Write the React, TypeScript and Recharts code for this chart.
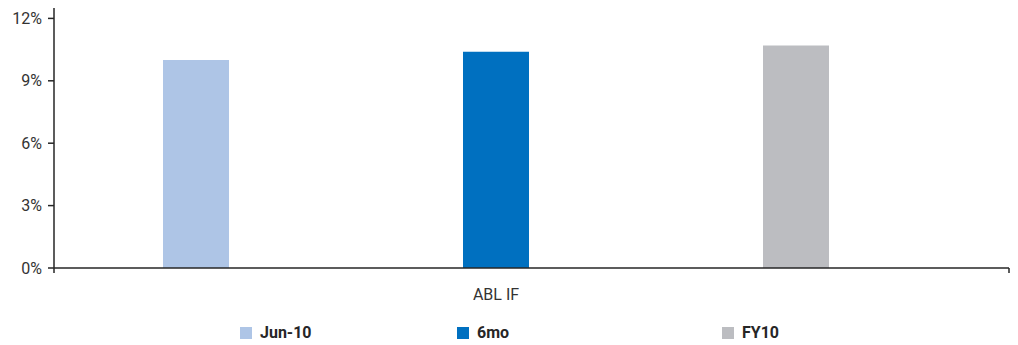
import React from 'react';
import * as Recharts from 'recharts';
import { BarChart, Bar, XAxis, YAxis, Legend } from 'recharts';

// Return rates by fund
const categories = ['ABL IF'];
const seriesNames = ['Jun-10', '6mo', 'FY10'];
const jun10Values = [10.0];
const sixMonthValues = [10.4];
const fy10Values = [10.7];
const yTicks = [0, 3, 6, 9, 12];

const seriesKeys = ['jun10', 'sixMo', 'fy10'];
const seriesColors = ['#AEC5E6', '#0070C0', '#BCBDC1'];

const data = categories.map((name, i) => ({
  name,
  jun10: jun10Values[i],
  sixMo: sixMonthValues[i],
  fy10: fy10Values[i],
}));

const FONT = 'Roboto, "Liberation Sans", sans-serif';
const AXIS_COLOR = '#262626';
const TEXT_COLOR = '#333333';

// Small downward marks at both ends of the category axis
function AxisEndMarks() {
  const usePlotArea = (Recharts as any).usePlotArea;
  const area = usePlotArea ? usePlotArea() : null;
  if (!area) return null;
  const yBase = area.y + area.height;
  return (
    <g>
      {[area.x, area.x + area.width].map((x, i) => (
        <line key={i} x1={x} x2={x} y1={yBase} y2={yBase + 5} stroke={AXIS_COLOR} strokeWidth={1.5} />
      ))}
    </g>
  );
}

const legendWidths = [217, 265, 80];

function LegendContent() {
  return (
    <div style={{ display: 'flex', height: 20, alignItems: 'center', fontFamily: FONT }}>
      {seriesNames.map((label, i) => (
        <div key={label} style={{ width: legendWidths[i], display: 'flex', alignItems: 'center' }}>
          <span style={{ width: 12, height: 12, background: seriesColors[i], display: 'inline-block', marginRight: 8 }} />
          <span style={{ fontSize: 16, fontWeight: 700, color: '#262626', lineHeight: '16px' }}>{label}</span>
        </div>
      ))}
    </div>
  );
}

export default function App() {
  return (
    <div style={{ position: 'absolute', left: 0, top: 0, width: 1018, height: 345, overflow: 'hidden', background: '#fff' }}>
      <BarChart
        width={1018}
        height={345}
        data={data}
        margin={{ top: 8, right: 9, left: 0, bottom: 0 }}
        barSize={66}
        barGap={234}
      >
        <YAxis
          width={54}
          domain={[0, 12.5]}
          ticks={yTicks}
          interval={0}
          tickFormatter={(v: number) => `${v}%`}
          tickSize={6}
          tickMargin={6}
          axisLine={{ stroke: AXIS_COLOR, strokeWidth: 1.5 }}
          tickLine={{ stroke: AXIS_COLOR, strokeWidth: 1.5 }}
          tick={{ fill: TEXT_COLOR, fontSize: 16, fontFamily: FONT }}
        />
        <XAxis
          dataKey="name"
          height={57}
          padding={{ left: 0, right: 71 }}
          tickLine={false}
          tickSize={6}
          tickMargin={15}
          axisLine={{ stroke: AXIS_COLOR, strokeWidth: 1.5 }}
          tick={{ fill: TEXT_COLOR, fontSize: 16, fontFamily: FONT }}
        />
        <Legend
          verticalAlign="bottom"
          content={<LegendContent />}
          wrapperStyle={{ left: 240, top: 323, width: 600, height: 20 }}
        />
        {seriesKeys.map((key, i) => (
          <Bar key={key} dataKey={key} name={seriesNames[i]} fill={seriesColors[i]} isAnimationActive={false} />
        ))}
        <AxisEndMarks />
      </BarChart>
    </div>
  );
}
